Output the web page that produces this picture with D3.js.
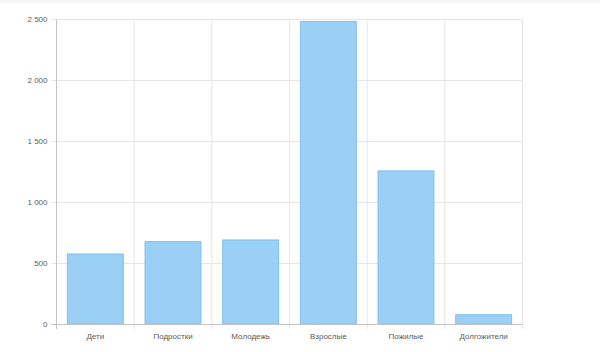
<!DOCTYPE html>
<html><head><meta charset="utf-8">
<script src="https://cdn.jsdelivr.net/npm/d3@7"></script>
<style>html,body{margin:0;padding:0;background:#fff;}svg{display:block;}</style>
</head><body>
<svg id="chart" width="600" height="352"></svg>
<script>
const categories = ["Дети","Подростки","Молодежь","Взрослые","Пожилые","Долгожители"];
const values = [575, 676, 690, 2484, 1257, 76];
const yTicks = [0, 500, 1000, 1500, 2000, 2500];

const svg = d3.select("#chart");
const W = 600, H = 352;
const m = {left: 56.5, right: 77.5, top: 19.5, bottom: 28};
const font = "'Liberation Sans', Arial, Helvetica, sans-serif";

svg.append("rect").attr("x",0).attr("y",0).attr("width",W).attr("height",3).attr("fill","#f7f7f7");

const x = d3.scaleBand().domain(categories).range([m.left, W - m.right]).paddingInner(0).paddingOuter(0);
const y = d3.scaleLinear().domain([0, 2500]).range([H - m.bottom, m.top]);
const fmt = v => d3.format(",")(v).replace(/,/g, " ");
const py = v => Math.floor(y(v)) + 0.5;

// horizontal grid
const gy = svg.append("g");
yTicks.forEach(t => {
  gy.append("line").attr("x1", m.left - 5).attr("x2", W - m.right)
    .attr("y1", py(t)).attr("y2", py(t))
    .attr("stroke", t === 0 ? "#c4c4c4" : "#e6e6e6").attr("stroke-width", 1);
  gy.append("text").attr("x", m.left - 9).attr("y", py(t))
    .attr("text-anchor", "end").attr("dominant-baseline", "central")
    .attr("font-family", font).attr("font-size", 8).attr("fill", "#5a5a5a").text(fmt(t));
});
// vertical grid
const gx = svg.append("g");
const edges = categories.map(c => x(c)).concat([W - m.right]);
edges.forEach((e, i) => {
  gx.append("line").attr("x1", e).attr("x2", e).attr("y1", m.top).attr("y2", H - m.bottom + 5)
    .attr("stroke", i === 0 ? "#c4c4c4" : "#e6e6e6").attr("stroke-width", 1);
});
// bars
const bw = x.bandwidth() * 0.72;
svg.append("g").selectAll("rect").data(values).join("rect")
  .attr("x", (d, i) => x(categories[i]) + (x.bandwidth() - bw) / 2)
  .attr("width", bw)
  .attr("y", d => y(d))
  .attr("height", d => y(0) - y(d))
  .attr("fill", "#9ad0f5")
  .attr("stroke", "#7fc0ec").attr("stroke-width", 1);
// redraw baseline over bars
svg.append("line").attr("x1", m.left - 5).attr("x2", W - m.right)
  .attr("y1", py(0)).attr("y2", py(0))
  .attr("stroke", "#c4c4c4");
// x labels
svg.append("g").selectAll("text").data(categories).join("text")
  .attr("x", d => x(d) + x.bandwidth() / 2).attr("y", H - m.bottom + 12.5)
  .attr("text-anchor", "middle").attr("dominant-baseline", "central")
  .attr("font-family", font).attr("font-size", 8).attr("fill", "#5a5a5a").text(d => d);
</script>
</body></html>
